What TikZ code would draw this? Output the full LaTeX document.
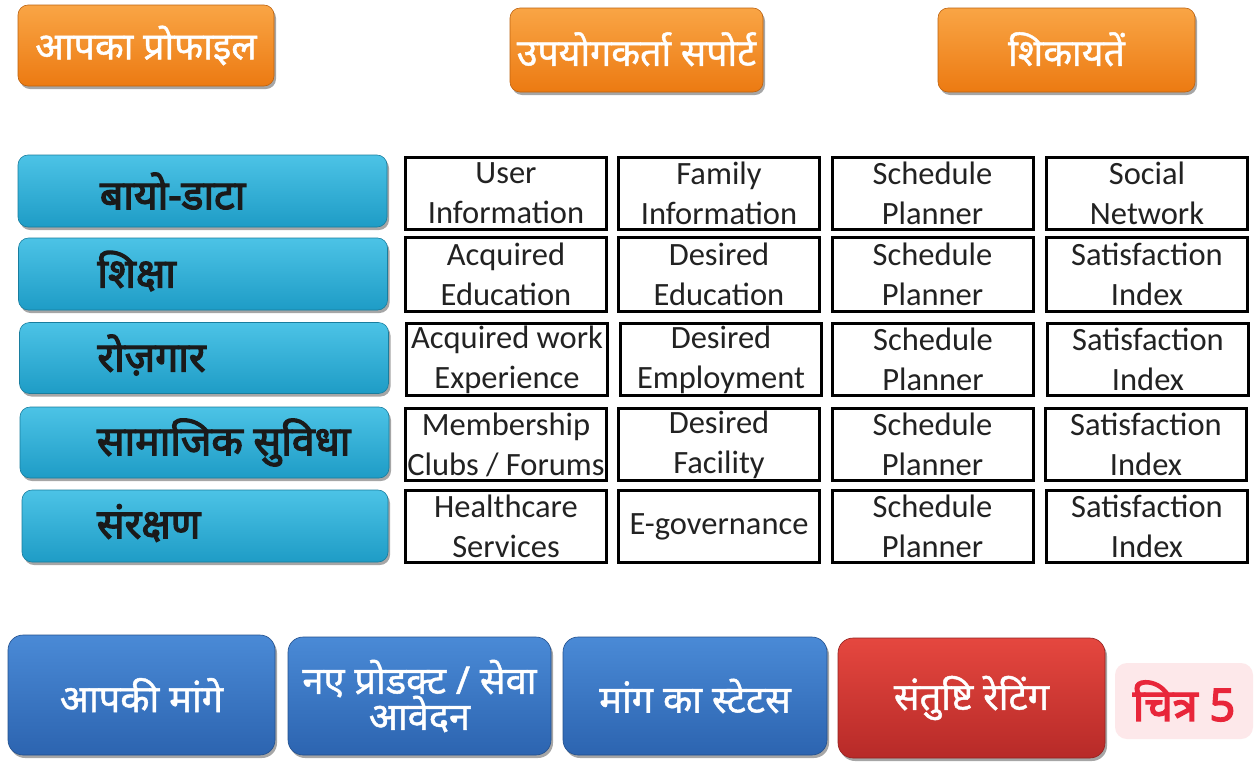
\documentclass[tikz,border=0pt]{standalone}
\usepackage{fontspec}
\newfontfamily\devfont[Script=Devanagari, FakeBold=1.2]{Noto Sans}
\newfontfamily\devbold[Script=Devanagari, FakeBold=3]{Noto Sans}
\newfontfamily\gridfont{Carlito}
\usetikzlibrary{shadows,calc}
\definecolor{orTop}{HTML}{F9A545}
\definecolor{orBot}{HTML}{EC7A12}
\definecolor{tlTop}{HTML}{4CC3E6}
\definecolor{tlBot}{HTML}{1E9CC6}
\definecolor{blTop}{HTML}{4A8AD6}
\definecolor{blBot}{HTML}{2C64B0}
\definecolor{rdTop}{HTML}{E5473F}
\definecolor{rdBot}{HTML}{B72A28}
\definecolor{lblRed}{HTML}{E8263A}
\definecolor{lblPink}{HTML}{FDE8EA}
\definecolor{gridText}{HTML}{222222}
\definecolor{tealText}{HTML}{1A1A1A}
\tikzset{
  btn/.style={rounded corners=10pt, inner sep=0pt, text=white,
    drop shadow={shadow xshift=2pt, shadow yshift=-3pt, opacity=0.35, fill=black}},
  obtn/.style={btn, top color=orTop, bottom color=orBot, draw=orBot!80!black, line width=0.6pt,
    font=\devfont\fontsize{37.5}{40}\selectfont},
  tbtn/.style={btn, top color=tlTop, bottom color=tlBot, draw=tlBot!80!black, line width=0.6pt},
  bbtn/.style={btn, rounded corners=15pt, top color=blTop, bottom color=blBot, draw=blBot!80!black,
    line width=0.6pt, align=center, font=\devfont\fontsize{38}{38}\selectfont},
  rbtn/.style={bbtn, top color=rdTop, bottom color=rdBot, draw=rdBot!80!black},
  tlabel/.style={anchor=west, inner sep=0pt, text=tealText, font=\devbold\fontsize{41}{44}\selectfont},
  cell/.style={draw=black, line width=3pt, minimum width=201pt, minimum height=72pt, inner sep=0pt,
    align=center, text=gridText, font=\gridfont\fontsize{32.5}{40}\selectfont},
  figlbl/.style={fill=lblPink, rounded corners=12pt, text=lblRed, inner sep=0pt,
    font=\devbold\fontsize{45}{48}\selectfont}
}
\begin{document}
\begin{tikzpicture}[x=1pt,y=-1pt]
\useasboundingbox (0,0) rectangle (1254,780);
\fill[white] (0,0) rectangle (1254,780);
% top orange buttons
\node[obtn, minimum width=256pt, minimum height=81pt] (t1) at (146,45.5) {\raisebox{3pt}{आपका प्रोफाइल}};
\node[obtn, minimum width=253pt, minimum height=84pt] (t2) at (636.5,50) {\raisebox{2pt}{उपयोगकर्ता सपोर्ट}};
\node[obtn, minimum width=257pt, minimum height=84pt] (t3) at (1066.5,50) {\raisebox{2pt}{शिकायतें}};
% left teal buttons
\node[tbtn, minimum width=369pt, minimum height=72pt] (l1) at (202.5,191) {};
\node[tbtn, minimum width=369pt, minimum height=72pt] (l2) at (203,274) {};
\node[tbtn, minimum width=369pt, minimum height=71pt] (l3) at (204,358) {};
\node[tbtn, minimum width=369pt, minimum height=71pt] (l4) at (204.5,442.5) {};
\node[tbtn, minimum width=366pt, minimum height=72pt] (l5) at (205,526) {};
\node[tlabel] (lt1) at ($(l1.west)+(82,0)$) {बायो-डाटा};
\node[tlabel] (lt2) at ($(l2.west)+(79,-3)$) {शिक्षा};
\node[tlabel] (lt3) at ($(l3.west)+(78,-3)$) {रोज़गार};
\node[tlabel] (lt4) at ($(l4.west)+(77,0)$) {सामाजिक सुविधा};
\node[tlabel] (lt5) at ($(l5.west)+(75,-3)$) {संरक्षण};
% grid
\node[cell] (c11) at (506,193) {User\\Information};
\node[cell] (c12) at (719,193) {Family\\Information};
\node[cell] (c13) at (932.5,193) {Schedule\\Planner};
\node[cell] (c14) at (1147,193) {Social\\Network};
\node[cell, minimum height=74pt] (c21) at (506,274) {Acquired\\Education};
\node[cell, minimum height=74pt] (c22) at (719,274) {Desired\\Education};
\node[cell, minimum height=74pt] (c23) at (932.5,274) {Schedule\\Planner};
\node[cell, minimum height=74pt] (c24) at (1147,274) {Satisfaction\\Index};
\node[cell] (c31) at (507,359.5) {Acquired work\\Experience};
\node[cell] (c32) at (721,359.5) {Desired\\Employment};
\node[cell] (c33) at (933,359.5) {Schedule\\Planner};
\node[cell] (c34) at (1148,359.5) {Satisfaction\\Index};
\node[cell] (c41) at (506,444.5) {Membership\\Clubs / Forums};
\node[cell] (c42) at (719,444.5) {Desired\\Facility};
\node[cell] (c43) at (932.5,444.5) {Schedule\\Planner};
\node[cell] (c44) at (1146,444.5) {Satisfaction\\Index};
\node[cell] (c51) at (506,526.5) {Healthcare\\Services};
\node[cell] (c52) at (719,526.5) {E-governance};
\node[cell] (c53) at (932.5,526.5) {Schedule\\Planner};
\node[cell] (c54) at (1147,526.5) {Satisfaction\\Index};
% bottom buttons
\node[bbtn, minimum width=267pt, minimum height=120pt] (b1) at (141.5,695) {आपकी मांगे};
\node[bbtn, minimum width=263pt, minimum height=118pt] (b2) at (419.5,696) {नए प्रोडक्ट / सेवा\\[-2pt]आवेदन};
\node[bbtn, minimum width=264pt, minimum height=118pt] (b3) at (695,696) {मांग का स्टेटस};
\node[rbtn, minimum width=267pt, minimum height=120pt] (b4) at (971.5,698) {संतुष्टि रेटिंग};
\node[figlbl, minimum width=138pt, minimum height=76pt] (fig) at (1184,701) {चित्र 5};
\end{tikzpicture}
\end{document}
